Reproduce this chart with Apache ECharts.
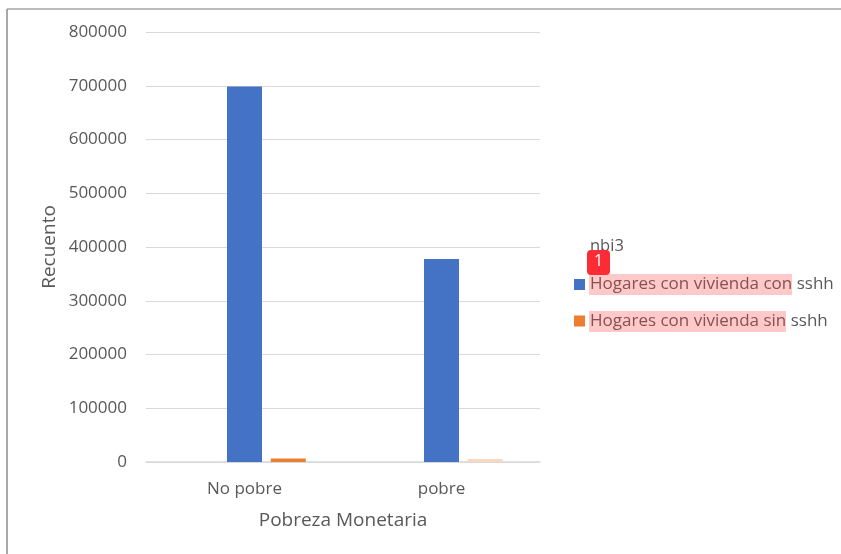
<!DOCTYPE html>
<html>
<head>
<meta charset="utf-8">
<style>html,body{margin:0;padding:0;background:#fff}#c{width:841px;height:554px}</style>
<script src="https://cdn.jsdelivr.net/npm/echarts@6/dist/echarts.min.js"></script>
</head>
<body>
<div id="c"></div>
<script>
const categories = ['No pobre', 'pobre'];
const emptySlot = [null, null];
const conSshh = [698500, 377500];
const sinSshh = [6500, 2000];
const sinColors = ['#ed7d31', '#f9d8c2'];
const seriesNames = ['Hogares con vivienda con sshh', 'Hogares con vivienda sin sshh'];
const font = '"Open Sans", sans-serif';
const chart = echarts.init(document.getElementById('c'), null, {renderer: 'canvas'});
chart.setOption({
  animation: false,
  backgroundColor: '#fff',
  textStyle: {fontFamily: font},
  grid: {left: 146, right: 301, top: 32, bottom: 92},
  xAxis: {
    type: 'category', data: categories,
    name: 'Pobreza Monetaria', nameLocation: 'middle', nameGap: 49,
    nameTextStyle: {color: '#595959', fontSize: 19, fontFamily: font},
    axisLine: {lineStyle: {color: '#d9d9d9', width: 1.5}},
    axisTick: {show: false},
    axisLabel: {color: '#595959', fontSize: 17, margin: 19, fontFamily: font}
  },
  yAxis: {
    type: 'value', min: 0, max: 800000, interval: 100000,
    name: 'Recuento', nameLocation: 'middle', nameGap: 87,
    nameTextStyle: {color: '#595959', fontSize: 19, fontFamily: font},
    axisLine: {show: false}, axisTick: {show: false},
    axisLabel: {color: '#595959', fontSize: 17, margin: 19, fontFamily: font, formatter: (v) => String(v)},
    splitLine: {lineStyle: {color: '#d9d9d9', width: 1}}
  },
  legend: {
    orient: 'vertical', left: 569, top: 271, itemWidth: 11, itemHeight: 11, itemGap: 19.5,
    icon: 'rect', selectedMode: false,
    textStyle: {color: '#595959', fontSize: 17, fontFamily: font},
    data: seriesNames,
    itemStyle: {color: 'inherit'}
  },
  series: [
    {name: 'blank', type: 'bar', data: emptySlot, barWidth: 35, barGap: '25%'},
    {name: seriesNames[0], type: 'bar', data: conSshh, barWidth: 35, itemStyle: {color: '#4472c4'}},
    {name: seriesNames[1], type: 'bar', data: sinSshh.map((v, i) => ({value: v, itemStyle: {color: sinColors[i]}})), barWidth: 35, barMinHeight: 3, itemStyle: {color: sinColors[0]}}
  ],
  graphic: [
    {type: 'line', silent: true, z: 10, shape: {x1: 7, y1: 9, x2: 841, y2: 9}, style: {stroke: '#a6a6a6', lineWidth: 1.5}},
    {type: 'line', silent: true, z: 10, shape: {x1: 7, y1: 9, x2: 7, y2: 554}, style: {stroke: '#8c8c8c', lineWidth: 1.5}},
    {type: 'text', silent: true, z: 10, left: 590, top: 238, style: {text: 'nbi3', fill: '#595959', font: '16.5px ' + font}},
    {type: 'rect', silent: true, z: 20, shape: {x: 589, y: 274, width: 203, height: 21}, style: {fill: 'rgba(255,60,60,0.28)'}},
    {type: 'rect', silent: true, z: 20, shape: {x: 589, y: 311, width: 197, height: 21}, style: {fill: 'rgba(255,60,60,0.28)'}},
    {type: 'rect', silent: true, z: 21, shape: {x: 587, y: 250, width: 23, height: 25, r: 4}, style: {fill: '#fb2c36'}},
    {type: 'text', silent: true, z: 22, left: 594, top: 253, style: {text: '1', fill: '#fff', font: '16px ' + font}}
  ]
});
</script>
</body>
</html>
